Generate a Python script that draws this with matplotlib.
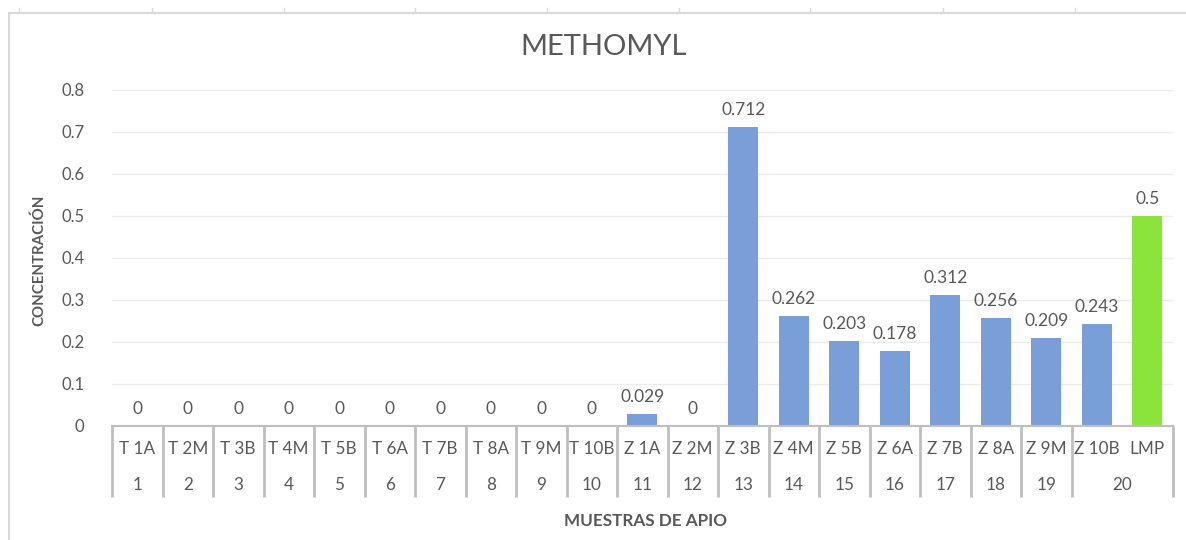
import matplotlib
matplotlib.use("Agg")
import matplotlib.pyplot as plt
from matplotlib.lines import Line2D
from matplotlib.transforms import blended_transform_factory

plt.rcParams['font.family'] = ['Lato', 'DejaVu Sans']

categories = ["T 1A", "T 2M", "T 3B", "T 4M", "T 5B", "T 6A", "T 7B", "T 8A", "T 9M", "T 10B",
              "Z 1A", "Z 2M", "Z 3B", "Z 4M", "Z 5B", "Z 6A", "Z 7B", "Z 8A", "Z 9M", "Z 10B", "LMP"]
values = [0, 0, 0, 0, 0, 0, 0, 0, 0, 0,
          0.029, 0, 0.712, 0.262, 0.203, 0.178, 0.312, 0.256, 0.209, 0.243, 0.5]
value_labels = ["0", "0", "0", "0", "0", "0", "0", "0", "0", "0",
                "0.029", "0", "0.712", "0.262", "0.203", "0.178", "0.312", "0.256", "0.209", "0.243", "0.5"]
group_labels = [str(i) for i in range(1, 21)]
group_sizes = [1] * 19 + [2]
yticks = [0, 0.1, 0.2, 0.3, 0.4, 0.5, 0.6, 0.7, 0.8]
ytick_labels = ["0", "0.1", "0.2", "0.3", "0.4", "0.5", "0.6", "0.7", "0.8"]

TXT = "#595959"
BLUE = "#7A9ED8"
GREEN = "#8AE43C"
LINE = "#BFBFBF"

W, H = 1186, 540
fig = plt.figure(figsize=(W / 100, H / 100), dpi=100)
fig.patch.set_facecolor("white")

# axes placement (pixel coords from top-left)
x0, x1 = 112, 1172.5
y_top, y_bot = 90, 426
ax = fig.add_axes([x0 / W, 1 - y_bot / H, (x1 - x0) / W, (y_bot - y_top) / H])

colors = [BLUE] * (len(categories) - 1) + [GREEN]
xs = list(range(len(categories)))
bars = ax.bar(xs, values, width=0.59, color=colors, zorder=3)

ax.set_xlim(-0.5, len(categories) - 0.5)
ax.set_ylim(0, 0.8)
ax.set_yticks(yticks)
ax.set_yticklabels(ytick_labels, fontsize=12, color=TXT)
ax.tick_params(axis='y', length=0, pad=20)
ax.set_xticks([])
ax.grid(axis='y', color="#EBEBEB", linewidth=1, zorder=0)
for s in ["top", "right", "left"]:
    ax.spines[s].set_visible(False)
ax.spines["bottom"].set_color(LINE)
ax.spines["bottom"].set_linewidth(1.5)
ax.spines["bottom"].set_zorder(4)

for x, v, lab in zip(xs, values, value_labels):
    ax.annotate(lab, (x, v), xytext=(0, 6.5), textcoords="offset points",
                ha="center", va="bottom", fontsize=12.5, color=TXT)

# multi-level category axis
tr = blended_transform_factory(ax.transData, ax.transAxes)
px = 1.0 / (y_bot - y_top)
row1_y = -(449 - y_bot) * px
row2_y = -(485 - y_bot) * px
line_bot = -(497 - y_bot) * px
for x, lab in zip(xs, categories):
    ax.text(x, row1_y, lab, transform=tr, ha="center", va="center",
            fontsize=12.3, color=TXT, clip_on=False)

start = 0
boundaries = [-0.5]
for lab, n in zip(group_labels, group_sizes):
    center = start + (n - 1) / 2
    ax.text(center, row2_y, lab, transform=tr, ha="center", va="center",
            fontsize=12.3, color=TXT, clip_on=False)
    start += n
    boundaries.append(start - 0.5)
for b in boundaries:
    ax.add_line(Line2D([b, b], [0, line_bot], transform=tr, color=LINE,
                       linewidth=2, clip_on=False, solid_capstyle="butt"))

# titles
fig.text(604 / W, 1 - 47 / H, "METHOMYL", ha="center", va="center",
         fontsize=21, color=TXT)
fig.text(645 / W, 1 - 521 / H, "MUESTRAS DE APIO", ha="center", va="center",
         fontsize=12.3, color=TXT, fontweight="bold")
fig.text(39 / W, 1 - 260 / H, "CONCENTRACIÓN", ha="center", va="center",
         fontsize=10.8, color=TXT, fontweight="bold", rotation=90)

# chart frame / sheet artifacts
frame_c = "#D9D9D9"
fig.add_artist(Line2D([9 / W, 1], [1 - 13 / H, 1 - 13 / H], transform=fig.transFigure,
                      color=frame_c, linewidth=1.5))
fig.add_artist(Line2D([9 / W, 9 / W], [0, 1 - 13 / H], transform=fig.transFigure,
                      color=frame_c, linewidth=1.5))
for tx in [19, 152, 284, 415, 547, 679, 810, 943, 1075]:
    fig.add_artist(Line2D([tx / W, tx / W], [1 - 13 / H, 1 - 8 / H], transform=fig.transFigure,
                          color=frame_c, linewidth=1))

fig.savefig("out.png", dpi=100, facecolor="white")
